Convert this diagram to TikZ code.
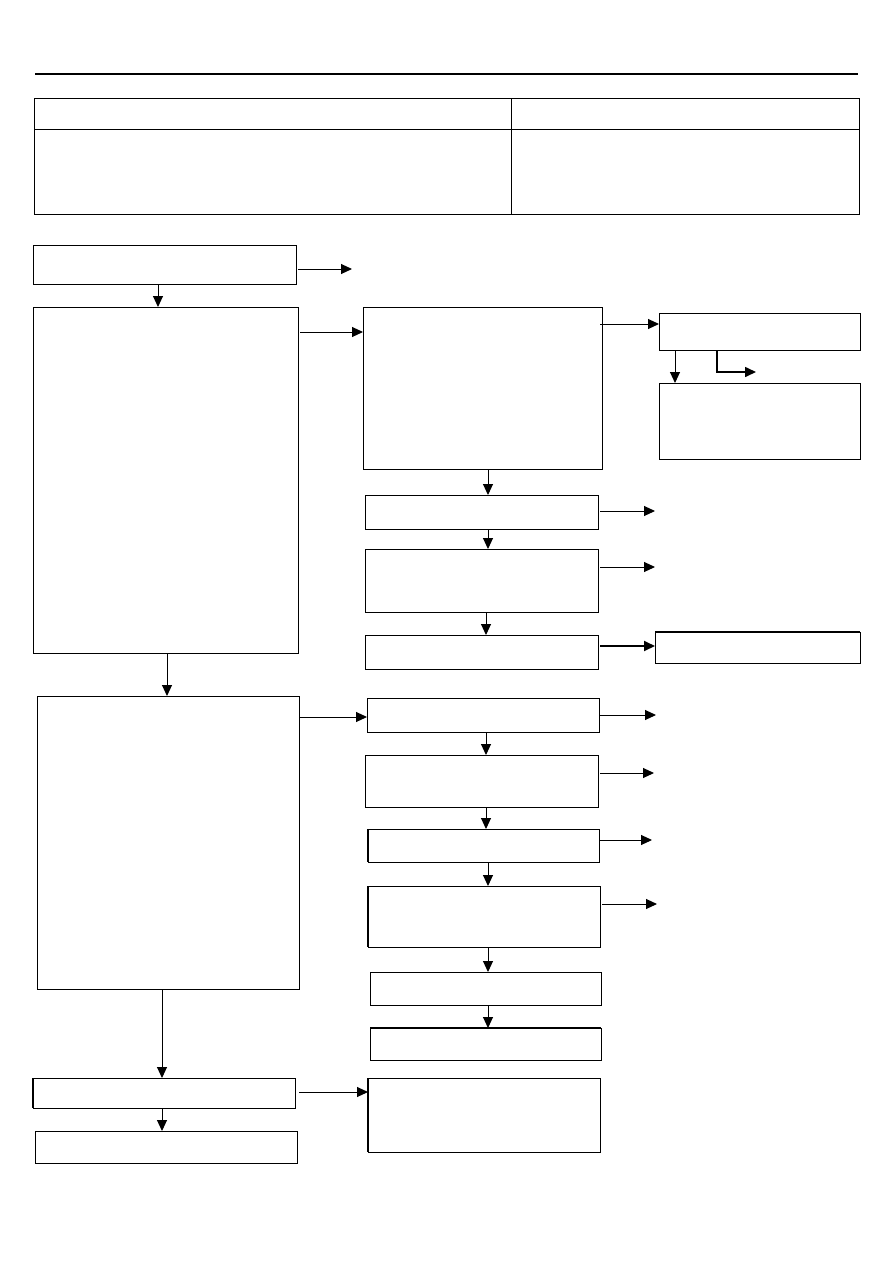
\documentclass[tikz,border=0pt]{standalone}
\usetikzlibrary{arrows.meta}
\tikzset{
  box/.style={draw=black, line width=1pt, rectangle, inner sep=0pt, outer sep=0pt, fill=none},
  arr/.style={line width=1pt, -{Triangle[length=11pt,width=10pt]}},
}
\begin{document}
\begin{tikzpicture}[x=1pt,y=-1pt]
\useasboundingbox (0,0) rectangle (893,1263);
% header rule
\draw[line width=2.5pt] (35,74) -- (858,74);
% table
\node[box, minimum width=825, minimum height=116] (T) at (446.5,156) {};
\draw[line width=1pt] (34,129) -- (859,129);
\draw[line width=1pt] (511,98) -- (511,214);
% boxes
\node[box, minimum width=263, minimum height=39]  (A) at (164.5,264.5) {};
\node[box, minimum width=265, minimum height=346] (B) at (165.5,480) {};
\node[box, minimum width=239, minimum height=162] (C) at (482.5,388) {};
\node[box, minimum width=201, minimum height=37]  (D) at (759.5,331.5) {};
\node[box, minimum width=201, minimum height=76]  (E) at (759.5,421) {};
\node[box, minimum width=233, minimum height=34]  (F) at (481.5,512) {};
\node[box, minimum width=233, minimum height=63]  (G) at (481.5,580.5) {};
\node[box, minimum width=233, minimum height=34]  (H) at (481.5,652) {};
\node[box, minimum width=205, minimum height=31, line width=1pt] (I) at (757.5,647.5) {};
\node[box, minimum width=262, minimum height=293] (J) at (168,842.5) {};
\node[box, minimum width=232, minimum height=34]  (K) at (483,715) {};
\node[box, minimum width=233, minimum height=52]  (L) at (481.5,781) {};
\node[box, minimum width=231, minimum height=33]  (M) at (483.5,845.5) {};
\node[box, minimum width=232, minimum height=61]  (N) at (484,916.5) {};
\node[box, minimum width=231, minimum height=33]  (O) at (485.5,988.5) {};
\node[box, minimum width=231, minimum height=32]  (P) at (485.5,1044) {};
\node[box, minimum width=262, minimum height=30]  (Q) at (164,1093) {};
\node[box, minimum width=232, minimum height=74]  (R) at (484,1115) {};
\node[box, minimum width=262, minimum height=32]  (S) at (166,1147) {};
% slightly heavier edges
\draw[line width=2pt] (I.north west) -- (I.north east);
\draw[line width=2pt] (P.north west) -- (P.north east);
\draw[line width=2pt] (Q.north west) -- (Q.south west);
\draw[line width=1.6pt] (M.north west) -- (M.south west);
\draw[line width=1.6pt] (N.north west) -- (N.south west);
\draw[line width=1.6pt] (R.north west) -- (R.south west);
% free end coordinates
\coordinate (fA) at (352,269);
\coordinate (fD) at (756,372);
\coordinate (fF) at (655,511);
\coordinate (fG) at (655,567);
\coordinate (fK) at (656,715);
\coordinate (fL) at (654,773);
\coordinate (fM) at (652,840);
\coordinate (fN) at (657,904);
% connectors
\draw[arr] ([xshift=2pt,yshift=-4.5pt]A.east) -- (fA);
\draw[arr] ([xshift=-6.5pt]A.south) -- ([xshift=-7.5pt]B.north);
\draw[arr] ([xshift=2pt,yshift=-25pt]B.north east) -- ([yshift=-25pt]C.north west);
\draw[arr] ([xshift=-2pt,yshift=-17pt]C.north east) -- ([yshift=-11pt]D.north west);
\draw[arr] ([xshift=16pt]D.south west) -- ([xshift=16pt]E.north west);
\draw[arr, line width=1.6pt] ([xshift=58pt]D.south west) |- (fD);
\draw[arr] ([xshift=5.5pt]C.south) -- ([xshift=6.5pt]F.north);
\draw[arr] ([xshift=2pt,yshift=1pt]F.east) -- (fF);
\draw[arr] ([xshift=6.5pt]F.south) -- ([xshift=6.5pt]G.north);
\draw[arr] ([xshift=2pt,yshift=-18pt]G.north east) -- (fG);
\draw[arr] ([xshift=4.5pt]G.south) -- ([xshift=4.5pt]H.north);
\draw[arr, line width=1.8pt] ([xshift=2pt,yshift=-11pt]H.north east) -- ([yshift=-14pt]I.north west);
\draw[arr] ([xshift=1.5pt]B.south) -- ([xshift=-1pt]J.north);
\draw[arr] ([xshift=1pt,yshift=-21pt]J.north east) -- ([yshift=-19pt]K.north west);
\draw[arr] ([xshift=1pt]K.east) -- (fK);
\draw[arr] ([xshift=3pt]K.south) -- ([xshift=4.5pt]L.north);
\draw[arr] ([xshift=2pt,yshift=-18pt]L.north east) -- (fL);
\draw[arr] ([xshift=4.5pt]L.south) -- ([xshift=2.5pt]M.north);
\draw[arr] ([xshift=1pt,yshift=-11pt]M.north east) -- (fM);
\draw[arr] ([xshift=4.5pt]M.south) -- ([xshift=4pt]N.north);
\draw[arr] ([xshift=2pt,yshift=-18pt]N.north east) -- (fN);
\draw[arr] ([xshift=4pt]N.south) -- ([xshift=2.5pt]O.north);
\draw[arr] ([xshift=2.5pt]O.south) -- ([xshift=2.5pt]P.north);
\draw[arr] ([xshift=-6pt]J.south) -- ([xshift=-2pt]Q.north);
\draw[arr] ([xshift=4pt,yshift=1pt]Q.east) -- ([yshift=-14pt]R.north west);
\draw[arr] ([xshift=-2pt]Q.south) -- ([xshift=-4pt]S.north);
\end{tikzpicture}
\end{document}
